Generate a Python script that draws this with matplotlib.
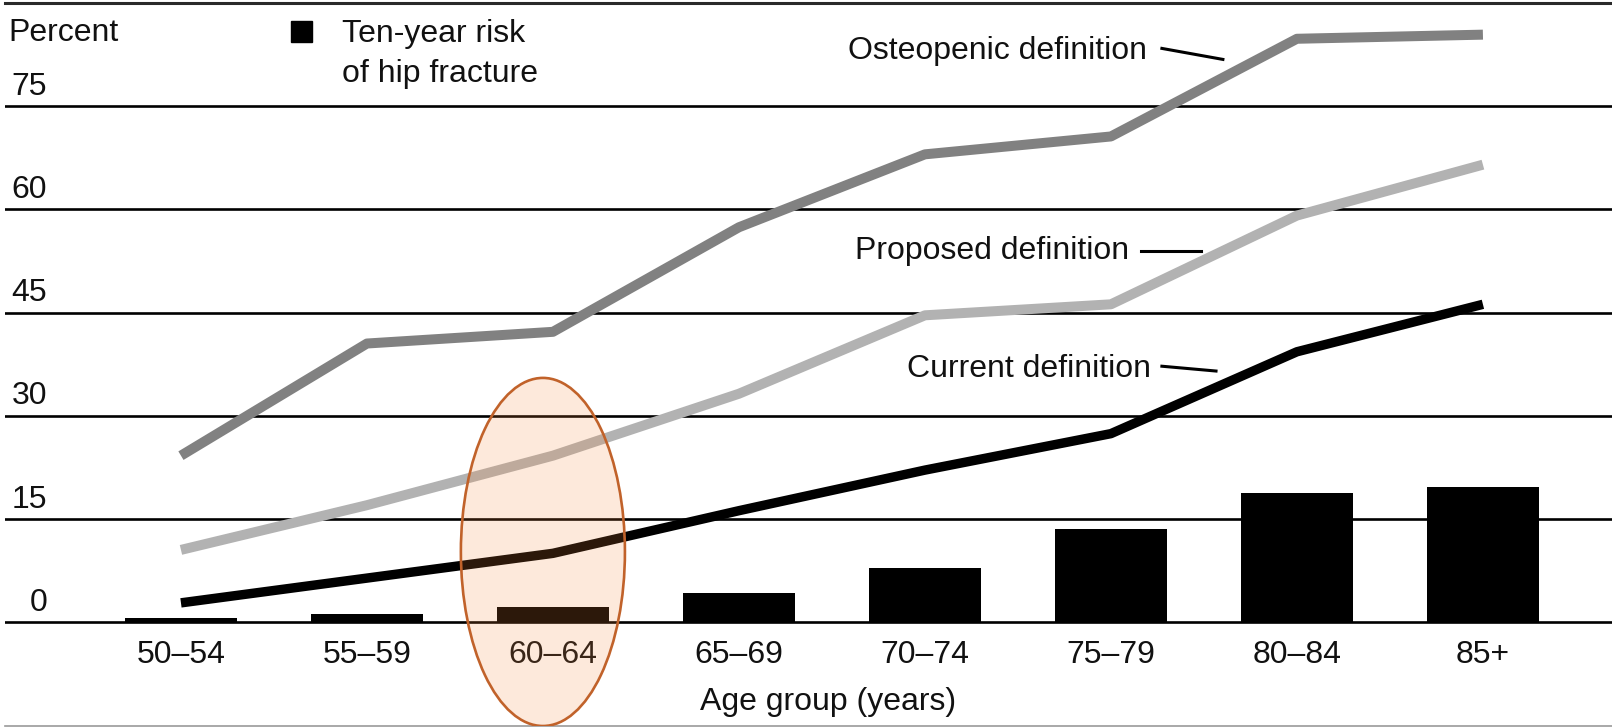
import matplotlib
matplotlib.use("Agg")
import matplotlib.pyplot as plt
from matplotlib.patches import Ellipse, Rectangle

# ---- data ----
age_groups = ["50\u201354", "55\u201359", "60\u201364", "65\u201369", "70\u201374", "75\u201379", "80\u201384", "85+"]
hip_fracture_risk = [0.6, 1.2, 2.2, 4.2, 7.8, 13.5, 18.8, 19.7]
osteopenic = [24.2, 40.5, 42.2, 57.4, 68.0, 70.6, 84.8, 85.4]
proposed = [10.5, 17.0, 24.2, 33.2, 44.6, 46.2, 59.1, 66.5]
current = [2.8, 6.4, 10.0, 16.2, 22.1, 27.4, 39.3, 46.2]
y_ticks = [0, 15, 30, 45, 60, 75]

plt.rcParams['font.family'] = ['Liberation Sans', 'DejaVu Sans']
FS = 23
TC = '#111111'

fig = plt.figure(figsize=(16.12, 7.28), dpi=100)
ax = fig.add_axes([5 / 1612, 2 / 728, 1607 / 1612, 723 / 728])
x = list(range(len(age_groups)))
ax.set_xlim(-0.946, 7.694)
ax.set_ylim(-15.1, 90)

# gridlines
for v in y_ticks:
    ax.axhline(v, color='black', lw=1.9, zorder=1)
    ax.text(-0.72, v + 2.8, str(v), ha='right', va='center', fontsize=FS, color=TC)

# bars
ax.bar(x, hip_fracture_risk, width=0.6, color='black', zorder=2)

# lines
ax.plot(x, osteopenic, color='#818181', lw=7.2, solid_capstyle='butt', zorder=3)
ax.plot(x, proposed, color='#b2b2b2', lw=7.2, solid_capstyle='butt', zorder=3)
ax.plot(x, current, color='black', lw=6.8, solid_capstyle='butt', zorder=3)

# x labels
for xi, lab in zip(x, age_groups):
    ax.text(xi, -4.8, lab, ha='center', va='center', fontsize=FS, color=TC)
ax.text(3.48, -11.6, "Age group (years)", ha='center', va='center', fontsize=FS, color=TC)

# line annotations
ax.text(3.586, 83.0, "Osteopenic definition", ha='left', va='center', fontsize=FS, color=TC)
ax.plot([5.274, 5.602], [83.4, 81.8], color='black', lw=2.2, zorder=3)
ax.text(3.624, 53.9, "Proposed definition", ha='left', va='center', fontsize=FS, color=TC)
ax.plot([5.161, 5.484], [53.9, 53.9], color='black', lw=2.2, zorder=3)
ax.text(3.903, 36.8, "Current definition", ha='left', va='center', fontsize=FS, color=TC)
ax.plot([5.274, 5.565], [37.2, 36.5], color='black', lw=2.2, zorder=3)

# legend
ax.add_patch(Rectangle((0.591, 84.4), 0.113, 3.0, color='black', zorder=3))
ax.text(0.866, 82.6, "Ten-year risk\nof hip fracture", ha='left', va='center',
        fontsize=FS, color=TC, linespacing=1.4)

# y label
fig.text(8 / 1612, 1 - 33 / 728, "Percent", ha='left', va='center', fontsize=FS, color=TC)

# highlight ellipse
ax.add_patch(Ellipse((1.946, 10.2), 0.882, 50.6, facecolor='#f5873a', alpha=0.18,
                     edgecolor='none', zorder=4))
ax.add_patch(Ellipse((1.946, 10.2), 0.882, 50.6, facecolor='none',
                     edgecolor='#c1622a', lw=1.9, zorder=5))

# frame
for s in ['left', 'right']:
    ax.spines[s].set_visible(False)
ax.spines['top'].set_color('#2a2a2a')
ax.spines['top'].set_linewidth(2.2)
ax.spines['bottom'].set_color('#9a9a9a')
ax.spines['bottom'].set_linewidth(1.2)
ax.set_xticks([])
ax.set_yticks([])

fig.savefig("out.png", dpi=100)
